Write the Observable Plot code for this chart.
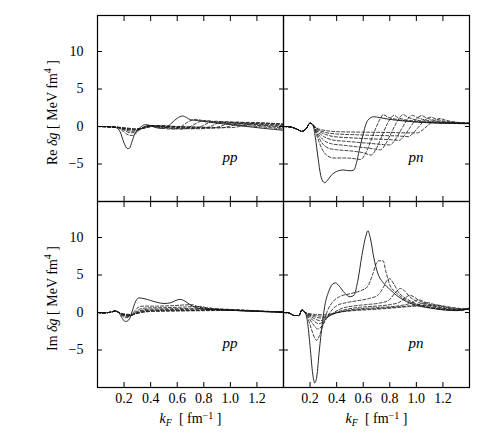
<!DOCTYPE html>
<html>
<head>
<meta charset="utf-8">
<script src="https://cdn.jsdelivr.net/npm/d3@7"></script>
<script src="https://cdn.jsdelivr.net/npm/@observablehq/plot@0.6"></script>
<style>
  html, body { margin: 0; padding: 0; background: #fff; }
</style>
</head>
<body>
<div id="chart"></div>
<script>
// ---------- data ----------
const columns = ["pp", "pn"];
const rowsOrder = ["Re", "Im"];
const xTicks = [0.2, 0.4, 0.6, 0.8, 1.0, 1.2];
const yTicks = [-5, 0, 5, 10];

// pp, Re part : first curve solid, the others dashed
const ppRe = [
  [[0,0],[0.05,0],[0.1,-0.05],[0.14,-0.15],[0.17,-0.7],[0.2,-2.2],[0.225,-2.95],[0.24,-2.9],[0.26,-2.0],[0.28,-1.0],[0.3,-0.5],[0.33,0.0],[0.36,0.25],[0.39,0.15],[0.43,-0.1],[0.48,-0.25],[0.52,-0.1],[0.56,0.5],[0.6,1.1],[0.64,1.4],[0.67,1.2],[0.7,0.9],[0.75,0.8],[0.85,0.55],[0.95,0.35],[1.05,0.15],[1.15,-0.05],[1.25,-0.25],[1.4,-0.5]],
  [[0,0],[0.1,-0.05],[0.15,-0.15],[0.19,-0.6],[0.23,-1.1],[0.26,-1.2],[0.29,-0.9],[0.32,-0.4],[0.36,0.05],[0.39,0.15],[0.43,0.0],[0.5,-0.25],[0.57,-0.35],[0.63,0.0],[0.69,0.7],[0.74,0.95],[0.8,0.75],[0.9,0.55],[1.0,0.35],[1.1,0.15],[1.2,0.0],[1.3,-0.15],[1.4,-0.35]],
  [[0,0],[0.1,-0.05],[0.15,-0.12],[0.2,-0.5],[0.25,-0.85],[0.28,-0.75],[0.32,-0.35],[0.36,0.0],[0.4,0.15],[0.45,0.0],[0.55,-0.25],[0.64,-0.35],[0.7,0.0],[0.77,0.65],[0.82,0.8],[0.88,0.65],[0.98,0.5],[1.1,0.3],[1.2,0.15],[1.3,0.0],[1.4,-0.2]],
  [[0,0],[0.1,-0.05],[0.15,-0.1],[0.2,-0.4],[0.26,-0.65],[0.3,-0.5],[0.35,-0.15],[0.41,0.1],[0.47,0.0],[0.6,-0.25],[0.71,-0.3],[0.78,0.0],[0.85,0.6],[0.9,0.7],[0.96,0.6],[1.05,0.45],[1.2,0.25],[1.3,0.1],[1.4,-0.05]],
  [[0,0],[0.1,-0.05],[0.15,-0.1],[0.21,-0.35],[0.27,-0.5],[0.32,-0.35],[0.37,-0.05],[0.43,0.1],[0.5,0.0],[0.65,-0.2],[0.78,-0.3],[0.85,0.0],[0.92,0.55],[0.98,0.65],[1.04,0.55],[1.15,0.4],[1.3,0.2],[1.4,0.1]],
  [[0,0],[0.1,-0.05],[0.15,-0.1],[0.21,-0.3],[0.27,-0.4],[0.33,-0.3],[0.38,-0.05],[0.45,0.1],[0.53,0.0],[0.7,-0.15],[0.85,-0.25],[0.92,0.0],[1.0,0.5],[1.06,0.6],[1.12,0.5],[1.25,0.35],[1.4,0.2]],
  [[0,0],[0.1,-0.05],[0.15,-0.1],[0.22,-0.25],[0.28,-0.35],[0.34,-0.25],[0.4,0.0],[0.47,0.1],[0.56,0.0],[0.75,-0.1],[0.92,-0.2],[0.99,0.0],[1.08,0.45],[1.14,0.55],[1.2,0.5],[1.3,0.4],[1.4,0.3]],
  [[0,0],[0.1,-0.05],[0.15,-0.1],[0.22,-0.2],[0.28,-0.3],[0.35,-0.2],[0.41,0.0],[0.49,0.1],[0.6,0.0],[0.8,-0.1],[1.0,-0.15],[1.07,0.0],[1.16,0.4],[1.22,0.5],[1.28,0.45],[1.4,0.35]]
];

// pn, Re part
const pnReStart = [[0,0],[0.05,-0.05],[0.1,-0.35],[0.14,-0.65],[0.17,-0.3],[0.2,0.45],[0.22,0.25]];
const pnRe = [
  pnReStart.concat([[0.24,-1.5],[0.26,-4.2],[0.28,-6.5],[0.3,-7.4],[0.31,-7.5],[0.33,-7.2],[0.36,-6.5],[0.4,-6.0],[0.45,-5.8],[0.5,-5.9],[0.53,-5.8],[0.55,-4.8],[0.57,-3.2],[0.6,-1.0],[0.62,0.3],[0.65,1.1],[0.68,1.3],[0.72,1.2],[0.8,0.95],[0.9,0.75],[1.0,0.6],[1.1,0.5],[1.2,0.45],[1.3,0.45],[1.4,0.4]]),
  pnReStart.concat([[0.25,-1.2],[0.29,-3.0],[0.33,-3.9],[0.38,-4.2],[0.45,-4.2],[0.52,-4.25],[0.58,-4.4],[0.62,-3.5],[0.66,-1.8],[0.7,0.0],[0.73,1.1],[0.75,1.6],[0.78,1.3],[0.85,0.95],[0.95,0.7],[1.05,0.55],[1.2,0.45],[1.4,0.35]]),
  pnReStart.concat([[0.25,-0.9],[0.29,-2.2],[0.34,-2.9],[0.4,-3.1],[0.5,-3.25],[0.6,-3.5],[0.66,-3.8],[0.7,-2.9],[0.74,-1.3],[0.78,0.3],[0.81,1.2],[0.83,1.5],[0.86,1.2],[0.92,0.9],[1.0,0.7],[1.1,0.55],[1.25,0.45],[1.4,0.4]]),
  pnReStart.concat([[0.25,-0.7],[0.3,-1.8],[0.36,-2.3],[0.45,-2.5],[0.55,-2.7],[0.65,-2.9],[0.73,-3.1],[0.77,-2.3],[0.81,-0.9],[0.85,0.5],[0.88,1.3],[0.9,1.6],[0.93,1.3],[0.99,0.9],[1.07,0.7],[1.2,0.5],[1.4,0.4]]),
  pnReStart.concat([[0.25,-0.55],[0.3,-1.3],[0.37,-1.8],[0.45,-1.95],[0.55,-2.1],[0.65,-2.25],[0.8,-2.45],[0.84,-1.8],[0.88,-0.6],[0.92,0.6],[0.95,1.3],[0.97,1.5],[1.0,1.25],[1.06,0.9],[1.15,0.65],[1.3,0.45],[1.4,0.4]]),
  pnReStart.concat([[0.25,-0.4],[0.31,-1.0],[0.38,-1.35],[0.5,-1.5],[0.65,-1.65],[0.8,-1.75],[0.87,-1.85],[0.91,-1.2],[0.95,-0.2],[0.99,0.8],[1.02,1.3],[1.04,1.45],[1.07,1.2],[1.13,0.85],[1.22,0.6],[1.4,0.45]]),
  pnReStart.concat([[0.25,-0.3],[0.31,-0.75],[0.4,-1.0],[0.55,-1.1],[0.7,-1.2],[0.85,-1.25],[0.94,-1.35],[0.98,-0.8],[1.02,0.0],[1.06,0.8],[1.09,1.15],[1.11,1.25],[1.14,1.05],[1.2,0.75],[1.3,0.55],[1.4,0.45]]),
  pnReStart.concat([[0.25,-0.2],[0.32,-0.55],[0.42,-0.7],[0.6,-0.75],[0.8,-0.8],[0.95,-0.85],[1.01,-0.85],[1.05,-0.4],[1.09,0.2],[1.13,0.75],[1.16,1.0],[1.18,1.05],[1.21,0.9],[1.27,0.65],[1.34,0.5],[1.4,0.45]])
];

// pp, Im part
const ppImStart = [[0,0],[0.05,-0.05],[0.1,0.05],[0.135,0.2],[0.16,0.0]];
const ppIm = [
  ppImStart.concat([[0.18,-0.6],[0.21,-1.2],[0.235,-1.0],[0.26,0.1],[0.28,1.2],[0.31,1.95],[0.35,1.85],[0.4,1.6],[0.45,1.35],[0.5,1.2],[0.55,1.3],[0.59,1.6],[0.62,1.75],[0.66,1.5],[0.7,1.0],[0.75,0.6],[0.8,0.45],[0.9,0.35],[1.0,0.3],[1.1,0.22],[1.2,0.15],[1.3,0.08],[1.4,0.05]]),
  ppImStart.concat([[0.18,-0.35],[0.21,-0.7],[0.24,-0.6],[0.27,0.0],[0.3,0.6],[0.34,0.85],[0.45,0.85],[0.55,0.9],[0.65,1.0],[0.71,1.05],[0.76,0.75],[0.82,0.5],[0.9,0.38],[1.0,0.3],[1.1,0.22],[1.25,0.12],[1.4,0.05]]),
  ppImStart.concat([[0.18,-0.3],[0.22,-0.55],[0.25,-0.45],[0.28,0.0],[0.32,0.45],[0.37,0.6],[0.5,0.65],[0.65,0.72],[0.74,0.8],[0.78,0.8],[0.83,0.55],[0.9,0.4],[1.0,0.3],[1.15,0.2],[1.4,0.05]]),
  ppImStart.concat([[0.18,-0.25],[0.22,-0.45],[0.26,-0.35],[0.29,0.0],[0.34,0.35],[0.4,0.45],[0.55,0.5],[0.7,0.55],[0.8,0.62],[0.84,0.62],[0.89,0.45],[0.95,0.35],[1.05,0.28],[1.2,0.18],[1.4,0.05]]),
  ppImStart.concat([[0.18,-0.2],[0.23,-0.4],[0.27,-0.3],[0.3,0.0],[0.36,0.28],[0.45,0.35],[0.6,0.4],[0.75,0.45],[0.86,0.52],[0.9,0.52],[0.95,0.4],[1.02,0.32],[1.15,0.22],[1.4,0.06]]),
  ppImStart.concat([[0.18,-0.18],[0.23,-0.35],[0.27,-0.25],[0.31,0.0],[0.38,0.22],[0.5,0.28],[0.7,0.33],[0.85,0.38],[0.93,0.44],[0.97,0.44],[1.03,0.35],[1.1,0.28],[1.25,0.15],[1.4,0.07]]),
  ppImStart.concat([[0.18,-0.15],[0.23,-0.3],[0.28,-0.2],[0.32,0.0],[0.4,0.18],[0.55,0.23],[0.75,0.28],[0.9,0.32],[0.99,0.38],[1.03,0.38],[1.09,0.3],[1.2,0.2],[1.4,0.08]]),
  ppImStart.concat([[0.18,-0.12],[0.24,-0.25],[0.29,-0.15],[0.33,0.0],[0.42,0.15],[0.6,0.2],[0.8,0.24],[0.95,0.28],[1.05,0.33],[1.09,0.33],[1.15,0.27],[1.25,0.18],[1.4,0.09]])
];

// pn, Im part
const pnImStart = [[0,0],[0.04,-0.05],[0.08,-0.4],[0.115,-0.4],[0.14,0.35],[0.16,0.05]];
const pnIm = [
  pnImStart.concat([[0.18,-1.2],[0.2,-4.5],[0.22,-8.2],[0.235,-9.4],[0.25,-8.6],[0.27,-5.0],[0.29,-1.8],[0.31,0.8],[0.34,2.8],[0.37,3.8],[0.39,3.95],[0.42,3.5],[0.46,2.6],[0.5,2.1],[0.53,2.3],[0.56,4.3],[0.59,7.6],[0.62,10.2],[0.635,10.9],[0.655,9.8],[0.68,7.3],[0.71,5.2],[0.75,4.0],[0.8,3.1],[0.85,2.3],[0.9,1.7],[0.95,1.25],[1.0,0.95],[1.1,0.6],[1.2,0.35],[1.3,0.25],[1.36,0.35],[1.4,0.6]]),
  pnImStart.concat([[0.18,-0.6],[0.21,-2.2],[0.235,-3.4],[0.25,-3.7],[0.27,-3.1],[0.3,-1.5],[0.33,0.2],[0.37,1.4],[0.42,2.1],[0.5,2.5],[0.58,2.9],[0.63,3.4],[0.67,5.0],[0.7,6.6],[0.72,6.9],[0.75,6.9],[0.77,5.5],[0.8,3.7],[0.85,2.6],[0.9,1.9],[0.95,1.4],[1.0,1.05],[1.1,0.65],[1.2,0.4],[1.3,0.28],[1.36,0.38],[1.4,0.55]]),
  pnImStart.concat([[0.18,-0.4],[0.22,-1.5],[0.26,-2.2],[0.29,-1.8],[0.32,-0.9],[0.35,0.0],[0.4,0.9],[0.47,1.3],[0.55,1.55],[0.65,1.9],[0.71,2.3],[0.75,3.3],[0.78,4.3],[0.8,4.5],[0.83,3.8],[0.87,2.6],[0.92,1.9],[0.97,1.4],[1.03,1.0],[1.12,0.65],[1.22,0.4],[1.3,0.3],[1.36,0.4],[1.4,0.55]]),
  pnImStart.concat([[0.18,-0.3],[0.22,-1.0],[0.27,-1.5],[0.3,-1.2],[0.34,-0.5],[0.38,0.0],[0.44,0.55],[0.52,0.85],[0.62,1.05],[0.72,1.25],[0.79,1.6],[0.84,2.6],[0.88,3.2],[0.91,2.9],[0.95,2.1],[1.0,1.5],[1.06,1.05],[1.15,0.65],[1.25,0.4],[1.32,0.32],[1.4,0.5]]),
  pnImStart.concat([[0.18,-0.25],[0.23,-0.8],[0.28,-1.1],[0.31,-0.9],[0.36,-0.3],[0.41,0.1],[0.48,0.45],[0.58,0.7],[0.7,0.85],[0.8,1.05],[0.87,1.35],[0.92,2.0],[0.95,2.3],[0.98,2.1],[1.02,1.6],[1.08,1.1],[1.17,0.7],[1.27,0.42],[1.34,0.38],[1.4,0.5]]),
  pnImStart.concat([[0.18,-0.2],[0.23,-0.55],[0.29,-0.75],[0.33,-0.55],[0.38,-0.15],[0.44,0.15],[0.52,0.4],[0.62,0.55],[0.75,0.7],[0.87,0.9],[0.95,1.2],[1.0,1.6],[1.02,1.7],[1.05,1.5],[1.1,1.1],[1.18,0.75],[1.28,0.48],[1.35,0.42],[1.4,0.5]]),
  pnImStart.concat([[0.18,-0.15],[0.24,-0.4],[0.3,-0.5],[0.35,-0.35],[0.4,-0.05],[0.47,0.2],[0.56,0.38],[0.68,0.5],[0.82,0.68],[0.95,0.9],[1.03,1.1],[1.07,1.3],[1.09,1.3],[1.13,1.1],[1.2,0.8],[1.3,0.52],[1.36,0.45],[1.4,0.5]]),
  pnImStart.concat([[0.18,-0.1],[0.24,-0.25],[0.31,-0.3],[0.37,-0.15],[0.43,0.05],[0.51,0.22],[0.62,0.35],[0.75,0.5],[0.9,0.72],[1.02,0.88],[1.1,0.98],[1.15,1.0],[1.2,0.88],[1.28,0.65],[1.35,0.52],[1.4,0.52]])
];

// labels
const yLabelText = {Re: "Re δg [ MeV fm⁴ ]", Im: "Im δg [ MeV fm⁴ ]"};
const xLabelText = "kF  [ fm⁻¹ ]";

// ---------- tables ----------
const panels = [
  {col: "pp", row: "Re", curves: ppRe},
  {col: "pn", row: "Re", curves: pnRe},
  {col: "pp", row: "Im", curves: ppIm},
  {col: "pn", row: "Im", curves: pnIm}
];
const table = [];
for (const p of panels) {
  p.curves.forEach((pts, i) => {
    for (const [x, y] of pts) table.push({col: p.col, row: p.row, id: `${p.col}-${p.row}-${i}`, dashed: i > 0, x, y});
  });
}
const tags = panels.map(p => ({col: p.col, row: p.row, t: p.col}));
const yLabels = rowsOrder.map(r => ({col: "pp", row: r, t: yLabelText[r]}));
const xLabels = columns.map(c => ({col: c, row: "Im", t: xLabelText}));

const facet = {fx: "col", fy: "row"};
const chart = Plot.plot({
  width: 491,
  height: 445,
  marginLeft: 97,
  marginRight: 22,
  marginTop: 14,
  marginBottom: 58,
  style: {fontFamily: "'Liberation Serif', 'DejaVu Serif', serif", fontSize: "14px", background: "#fff", color: "#000"},
  x: {domain: [0, 1.4]},
  y: {domain: [-10, 14.8]},
  fx: {domain: columns, padding: 0, axis: null, label: null},
  fy: {domain: rowsOrder, padding: 0, axis: null, label: null},
  marks: [
    Plot.line(table.filter(d => d.dashed), {...facet, x: "x", y: "y", z: "id", stroke: "#1a1a1a", strokeWidth: 0.85, strokeDasharray: "3,2", curve: "monotone-x", clip: true}),
    Plot.line(table.filter(d => !d.dashed), {...facet, x: "x", y: "y", z: "id", stroke: "#111", strokeWidth: 0.9, curve: "monotone-x", clip: true}),
    Plot.frame({stroke: "#000", strokeWidth: 1.2}),
    // inward ticks on all four sides of every panel
    Plot.axisX({anchor: "bottom", ticks: xTicks, tickSize: -5, tickFormat: () => "", label: null, facetAnchor: null}),
    Plot.axisX({anchor: "top", ticks: xTicks, tickSize: -5, tickFormat: () => "", label: null, facetAnchor: null}),
    Plot.axisY({anchor: "left", ticks: yTicks, tickSize: -5, tickFormat: () => "", label: null, facetAnchor: null}),
    Plot.axisY({anchor: "right", ticks: yTicks, tickSize: -5, tickFormat: () => "", label: null, facetAnchor: null}),
    // tick labels on outer panels
    Plot.axisX({anchor: "bottom", ticks: xTicks, tickSize: 0, tickPadding: 6, tickFormat: d3.format(".1f"), label: null, facetAnchor: "bottom"}),
    Plot.axisY({anchor: "left", ticks: yTicks, tickSize: 0, tickPadding: 14, label: null, facetAnchor: "left"}),
    // axis titles and panel tags
    Plot.text(yLabels, {...facet, text: "t", frameAnchor: "left", textAnchor: "middle", rotate: -90, dx: -45, dy: 4}),
    Plot.text(xLabels, {...facet, text: "t", frameAnchor: "bottom", dy: 35}),
    Plot.text(tags, {...facet, text: "t", frameAnchor: "right", dx: -46, dy: 49, fontStyle: "italic", fontSize: 15})
  ]
});
document.getElementById("chart").appendChild(chart);

// rich text: italics, sub/superscripts
const NS = "http://www.w3.org/2000/svg";
function rich(el, parts) {
  el.textContent = "";
  for (const p of parts) {
    const ts = document.createElementNS(NS, "tspan");
    ts.textContent = p.t;
    if (p.i) ts.setAttribute("font-style", "italic");
    if (p.s) ts.setAttribute("font-size", p.s);
    if (p.dy) ts.setAttribute("dy", p.dy);
    el.appendChild(ts);
  }
}
chart.querySelectorAll("text").forEach(el => {
  const s = el.textContent;
  if (s === yLabelText.Re || s === yLabelText.Im) {
    rich(el, [{t: s.slice(0, 3)}, {t: "δg", i: true}, {t: " [ MeV fm"}, {t: "4", s: 10, dy: -6}, {t: " ]", dy: 6}]);
  } else if (s === xLabelText) {
    rich(el, [{t: "k", i: true}, {t: "F", i: true, s: 10, dy: 3}, {t: "  [ fm", dy: -3}, {t: "−1", s: 10, dy: -4}, {t: " ]", dy: 4}]);
  }
});
</script>
</body>
</html>
